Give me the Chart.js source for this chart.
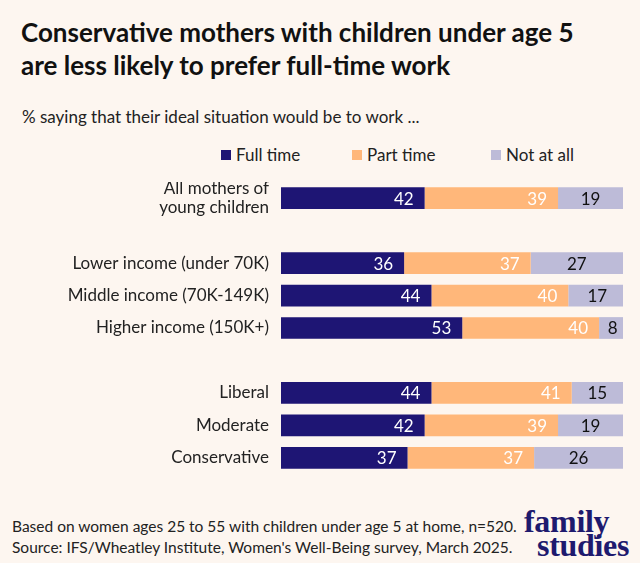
<!DOCTYPE html>
<html>
<head>
<meta charset="utf-8">
<script src="https://cdn.jsdelivr.net/npm/chart.js@4"></script>
<style>
  body { margin: 0; background: #fdf6f0; font-family: Lato, sans-serif; color: #1a1a1a; }
  #wrap { position: relative; width: 640px; height: 563px; overflow: hidden; }
  #titel { position: absolute; left: 21px; top: 16px; font-weight: bold; font-size: 26px; line-height: 33px; color: #111; }
  #unter { position: absolute; left: 22px; top: 106px; font-size: 17px; color: #222; }
  #legende { position: absolute; top: 144px; left: 0; width: 640px; height: 22px; font-size: 17px; color: #222; }
  .leg { position: absolute; top: 0; white-space: nowrap; }
  .leg i { display: inline-block; width: 10px; height: 10px; margin-right: 5px; vertical-align: 1px; }
  #chart-box { position: absolute; left: 0; top: 182px; width: 640px; height: 292px; }
  #fuss { position: absolute; left: 12px; top: 516px; font-size: 15.5px; line-height: 21px; color: #222; }
  #logo { position: absolute; left: 524px; top: 509px; font-family: "Liberation Serif", serif; font-weight: bold; font-size: 32px; line-height: 24px; color: #1e1a6e; letter-spacing: -0.3px; }
  #logo span { display: block; }
</style>
</head>
<body>
<div id="wrap">
  <div id="titel">Conservative mothers with children under age 5<br>are less likely to prefer full-time work</div>
  <div id="unter">% saying that their ideal situation would be to work ...</div>
  <div id="legende"></div>
  <div id="chart-box"><canvas id="arbeit-chart"></canvas></div>
  <div id="fuss">Based on women ages 25 to 55 with children under age 5 at home, n=520.<br>Source: IFS/Wheatley Institute, Women's Well-Being survey, March 2025.</div>
  <div id="logo"><span>family</span><span style="margin-left:13px">studies</span></div>
</div>
<script>
// Daten
const kategorien = [
  ['All mothers of', 'young children'],
  '',
  'Lower income (under 70K)',
  'Middle income (70K-149K)',
  'Higher income (150K+)',
  '',
  'Liberal',
  'Moderate',
  'Conservative'
];
const vollzeit = [42, null, 36, 44, 53, null, 44, 42, 37];
const teilzeit = [39, null, 37, 40, 40, null, 41, 39, 37];
const garNicht = [19, null, 27, 17, 8, null, 15, 19, 26];
const serienNamen = ['Full time', 'Part time', 'Not at all'];
const farben = ['#1e1574', '#ffb77a', '#bdbbd8'];
const legendeX = [221, 352, 491];

// Legende als HTML
const legende = document.getElementById('legende');
serienNamen.forEach((name, i) => {
  const el = document.createElement('div');
  el.className = 'leg';
  el.style.left = legendeX[i] + 'px';
  el.innerHTML = `<i style="background:${farben[i]}"></i>${name}`;
  legende.appendChild(el);
});

// Werte in die Balken schreiben
const wertePlugin = {
  id: 'werte',
  afterDatasetsDraw(chart) {
    const ctx = chart.ctx;
    ctx.save();
    ctx.font = '17px Lato';
    ctx.textBaseline = 'middle';
    chart.data.datasets.forEach((ds, di) => {
      const meta = chart.getDatasetMeta(di);
      meta.data.forEach((bar, i) => {
        const v = ds.data[i];
        if (v == null) return;
        if (di < 2) {
          ctx.fillStyle = '#ffffff';
          ctx.textAlign = 'right';
          ctx.fillText(v, bar.x - 11, bar.y + 1);
        } else {
          ctx.fillStyle = '#111111';
          ctx.textAlign = 'center';
          ctx.fillText(v, (bar.x + bar.base) / 2, bar.y + 1);
        }
      });
    });
    ctx.restore();
  }
};

const ctx = document.getElementById('arbeit-chart').getContext('2d');
new Chart(ctx, {
  type: 'bar',
  data: {
    labels: kategorien,
    datasets: [
      { label: serienNamen[0], data: vollzeit, backgroundColor: farben[0] },
      { label: serienNamen[1], data: teilzeit, backgroundColor: farben[1] },
      { label: serienNamen[2], data: garNicht, backgroundColor: farben[2] }
    ]
  },
  options: {
    indexAxis: 'y',
    responsive: true,
    maintainAspectRatio: false,
    animation: false,
    layout: { padding: { left: 0, right: 17, top: 0, bottom: 0 } },
    datasets: { bar: { barPercentage: 0.67, categoryPercentage: 1 } },
    plugins: {
      legend: { display: false },
      tooltip: { enabled: false }
    },
    scales: {
      x: { stacked: true, min: 0, max: 100, display: false },
      y: {
        stacked: true,
        grid: { display: false },
        border: { display: false },
        ticks: { color: '#222', font: { family: 'Lato', size: 17, lineHeight: 1.1 }, padding: 4, autoSkip: false },
        afterFit: (scale) => {
          scale.width = 281;
          scale.paddingTop = 0;
          scale.paddingBottom = 0;
        }
      }
    }
  },
  plugins: [wertePlugin]
});
</script>
</body>
</html>
